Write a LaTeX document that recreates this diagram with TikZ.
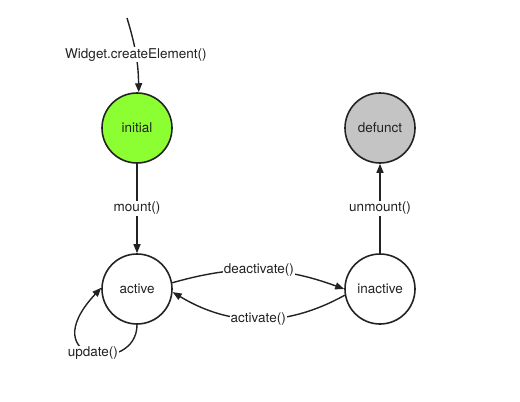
\documentclass[tikz,border=0pt]{standalone}
\usepackage{fontspec}
\setmainfont{TeX Gyre Heros}
\usetikzlibrary{arrows.meta}
\definecolor{initgreen}{HTML}{8CFF33}
\definecolor{defgrey}{HTML}{C4C4C4}
\definecolor{ink}{HTML}{222222}
\tikzset{
    state/.style={circle, draw=ink, line width=1.6pt, minimum size=70pt, inner sep=0pt,
        font=\fontsize{13.5}{16}\selectfont, text=ink},
    move/.style={draw=ink, line width=1.4pt, -{Triangle[length=9pt,width=7pt]}},
    call/.style={fill=white, inner sep=1pt, font=\fontsize{13.5}{16}\selectfont, text=ink}
}
\begin{document}
\begin{tikzpicture}[x=1pt, y=-1pt]
        \useasboundingbox (0,0) rectangle (520,402);
        % states
        \node[state, fill=initgreen] (initial) at (137,128) {initial};
        \node[state, fill=defgrey] (defunct) at (380,128) {defunct};
        \node[state] (active) at (137,289) {active};
        \node[state] (inactive) at (380,289) {inactive};
        \coordinate (start) at (127,18);
        % transitions
        \draw[move] (start) to[bend left=8] node[call] {Widget.createElement()} (initial);
        \draw[move] (initial) -- node[call] {mount()} (active);
        \draw[move] (inactive) -- node[call] {unmount()} (defunct.south);
        \draw[move] (active.10) to[bend left=18] node[call] {deactivate()} (inactive.180);
        \draw[move] (inactive.190) to[bend left=30] node[call] {activate()} (active.355);
        \draw[move] (active.south) .. controls +(0,50) and +(-70,75) .. node[call] {update()} (active.178);
    \end{tikzpicture}
\end{document}
